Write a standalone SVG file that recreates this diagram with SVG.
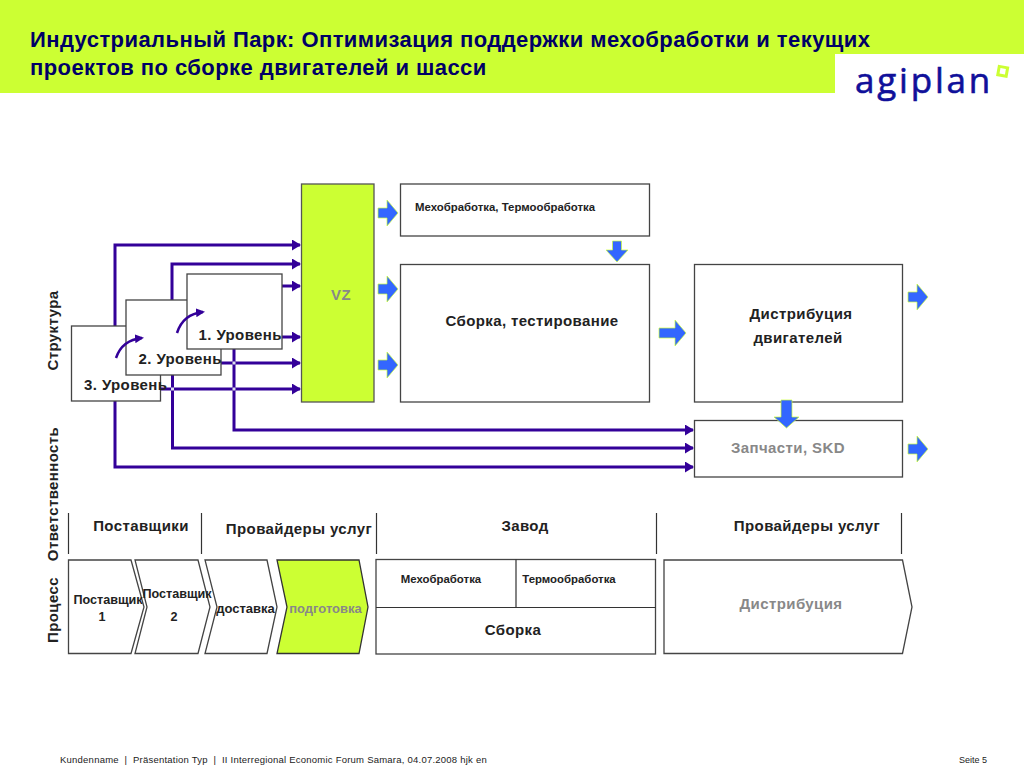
<svg xmlns="http://www.w3.org/2000/svg" width="1024" height="768" viewBox="0 0 1024 768">
<style>
text{font-family:"Liberation Sans",Arial,sans-serif;font-weight:bold;fill:#222}
.box{fill:#fff;stroke:#444;stroke-width:1.3}
.lime{fill:#ccff33;stroke:#555;stroke-width:1.3}
.c{text-anchor:middle}
.s11{font-size:11.4px}
.s12{font-size:12.6px}
.s13{font-size:13px}
.s14{font-size:15px;letter-spacing:.4px}
.g{fill:#888}
.conn{fill:none;stroke:#330099;stroke-width:3}
.curve{fill:none;stroke:#330099;stroke-width:2.5}
.blue{fill:#3366ff;stroke:#ccff33;stroke-width:.7}
.sep{stroke:#333;stroke-width:1.2}
.side{font-size:15px;letter-spacing:.4px;text-anchor:middle}
.title{font-size:22px;letter-spacing:.43px;fill:#000066}
.foot{font-size:9.5px;letter-spacing:.23px;font-weight:400;white-space:pre}
</style>
<defs>
<marker id="ah" markerUnits="userSpaceOnUse" markerWidth="9" markerHeight="11" refX="8" refY="5.500" orient="auto"><path d="M0 0L9 5.500L0 11Z" fill="#330099"/></marker>
<marker id="cah" markerUnits="userSpaceOnUse" markerWidth="9" markerHeight="9" refX="7" refY="4.500" orient="auto"><path d="M0 0L9 4.500L0 9Z" fill="#330099"/></marker>
<path id="br" d="M0-5H9V-13L20 0L9 13V5H0Z"/>
<path id="bd" d="M-4.500 0V9H-11L0 21L11 9H4.500V0Z"/>
</defs>
<rect id="header-band" x="0" y="0" width="1024" height="54" fill="#ccff33"/>
<rect id="header-left" x="0" y="54" width="835" height="39" fill="#ccff33"/>
<text class="title" x="30" y="47">Индустриальный Парк: Оптимизация поддержки мехобработки и текущих</text>
<text class="title" x="30" y="75">проектов по сборке двигателей и шасси</text>
<g id="logo">
<text x="855" y="93" style="font-family:'Open Sans','DejaVu Sans',sans-serif;font-weight:500;font-size:35px;letter-spacing:2.800px;fill:#10109a;stroke:#10109a;stroke-width:.6">agiplan</text>
<rect x="998.500" y="67" width="8.500" height="8.500" transform="rotate(10 1002.500 71)" fill="none" stroke="#ccff33" stroke-width="3"/>
</g>
<g id="side-labels">
<text class="side" transform="translate(58 330.500) rotate(-90)">Структура</text>
<text class="side" transform="translate(58 494) rotate(-90)">Ответственность</text>
<text class="side" transform="translate(58 610) rotate(-90)">Процесс</text>
</g>
<g id="connectors">
<path class="conn" d="M115 326V245H300" marker-end="url(#ah)"/>
<path class="conn" d="M172 300V264H300" marker-end="url(#ah)"/>
<path class="conn" d="M282 286H300" marker-end="url(#ah)"/>
<path class="conn" d="M282 337H300" marker-end="url(#ah)"/>
<path class="conn" d="M221 363H300" marker-end="url(#ah)"/>
<path class="conn" d="M160 389H300" marker-end="url(#ah)"/>
<path class="conn" d="M234 349V430H693" marker-end="url(#ah)"/>
<path class="conn" d="M172.500 375V448H693" marker-end="url(#ah)"/>
<path class="conn" d="M115 401V467H693" marker-end="url(#ah)"/>
<rect x="232.500" y="361.500" width="3" height="3" fill="#dde"/>
<rect x="232.500" y="387.500" width="3" height="3" fill="#dde"/>
<rect x="171" y="387.500" width="3" height="3" fill="#dde"/>
</g>
<g id="level-3"><rect class="box" x="71.500" y="326" width="89" height="75"/><text class="s14" x="84" y="390">3. Уровень</text></g>
<g id="level-2"><rect class="box" x="126" y="300" width="95" height="75"/><text class="s14" x="138.500" y="364">2. Уровень</text></g>
<g id="level-1"><rect class="box" x="187" y="274" width="95" height="75"/><text class="s14" x="198.500" y="340">1. Уровень</text></g>
<g id="level-curves">
<path class="curve" d="M116 358Q122 340 142 338" marker-end="url(#cah)"/>
<path class="curve" d="M177 333Q183 314 203 312" marker-end="url(#cah)"/>
</g>
<g id="vz"><rect class="lime" x="301.500" y="184" width="72.500" height="218"/><text class="s14 c g" x="341" y="300">VZ</text></g>
<g id="mech"><rect class="box" x="400.500" y="184" width="249" height="52"/><text class="s11" x="415" y="211">Мехобработка, Термообработка</text></g>
<g id="assembly"><rect class="box" x="400.500" y="264.500" width="249" height="137.500"/><text class="s14 c" x="532" y="326">Сборка, тестирование</text></g>
<g id="distribution"><rect class="box" x="694.500" y="264.500" width="208" height="137.500"/><text class="s14 c" x="801" y="319">Дистрибуция</text><text class="s14 c" x="798" y="343">двигателей</text></g>
<g id="parts"><rect class="box" x="694.500" y="420.500" width="208" height="56.500"/><text class="s14 c g" x="788" y="453">Запчасти, SKD</text></g>
<g id="flow-arrows">
<use href="#br" class="blue" x="378" y="213"/>
<use href="#br" class="blue" x="378" y="289"/>
<use href="#br" class="blue" x="378" y="365"/>
<path class="blue" d="M659 328H675V320L686 333L675 346V338H659Z"/>
<use href="#br" class="blue" x="908" y="297"/>
<use href="#br" class="blue" x="908" y="449"/>
<use href="#bd" class="blue" x="617" y="241"/>
<path class="blue" d="M781 400V417H774L786.500 428L799 417H792V400Z"/>
</g>
<g id="responsibility">
<line class="sep" x1="68.500" y1="513" x2="68.500" y2="554"/>
<line class="sep" x1="201.500" y1="513" x2="201.500" y2="554"/>
<line class="sep" x1="376.500" y1="513" x2="376.500" y2="554"/>
<line class="sep" x1="656.500" y1="513" x2="656.500" y2="554"/>
<line class="sep" x1="901.500" y1="513" x2="901.500" y2="554"/>
<text class="s14 c" x="141" y="531">Поставщики</text>
<text class="s14 c" x="299" y="534">Провайдеры услуг</text>
<text class="s14 c" x="525" y="531">Завод</text>
<text class="s14 c" x="807" y="531">Провайдеры услуг</text>
</g>
<g id="step-1"><path class="box" d="M68.500 560H131L144 607L131 653.500H68.500Z"/><text class="s12 c" x="108" y="604">Поставщик</text><text class="s12 c" x="102" y="621">1</text></g>
<g id="step-2"><path class="box" d="M135 560H198L210 607L198 653.500H135L147 607Z"/><text class="s12 c" x="177" y="598">Поставщик</text><text class="s12 c" x="174" y="621">2</text></g>
<g id="step-3"><path class="box" d="M205 560H267L277 607L267 653.500H205L217 607Z"/><text class="s13 c" x="245.500" y="613">доставка</text></g>
<g id="step-4"><path class="lime" style="stroke:#333" d="M277 560H359L368 607L359 653.500H277L287 607Z"/><text class="s13 c g" x="325.500" y="613">подготовка</text></g>
<g id="plant">
<rect class="box" x="376" y="559.500" width="279.500" height="94.500"/>
<path class="sep" fill="none" d="M376 607.500H655.500M516 559.500V607.500"/>
<text class="s11 c" x="441" y="583">Мехобработка</text>
<text class="s11 c" x="569" y="583">Термообработка</text>
<text class="s14 c" x="513" y="635">Сборка</text>
</g>
<g id="dist-step"><path class="box" d="M664 560H902.500L912 607L902.500 653.500H664Z"/><text class="s14 c g" x="791" y="609">Дистрибуция</text></g>
<g id="footer">
<text class="foot" x="60" y="763">Kundenname  |  Präsentation Typ  |  II Interregional Economic Forum Samara, 04.07.2008 hjk en</text>
<text x="959" y="763" style="font-size:9px;font-weight:400">Seite 5</text>
</g>
</svg>
